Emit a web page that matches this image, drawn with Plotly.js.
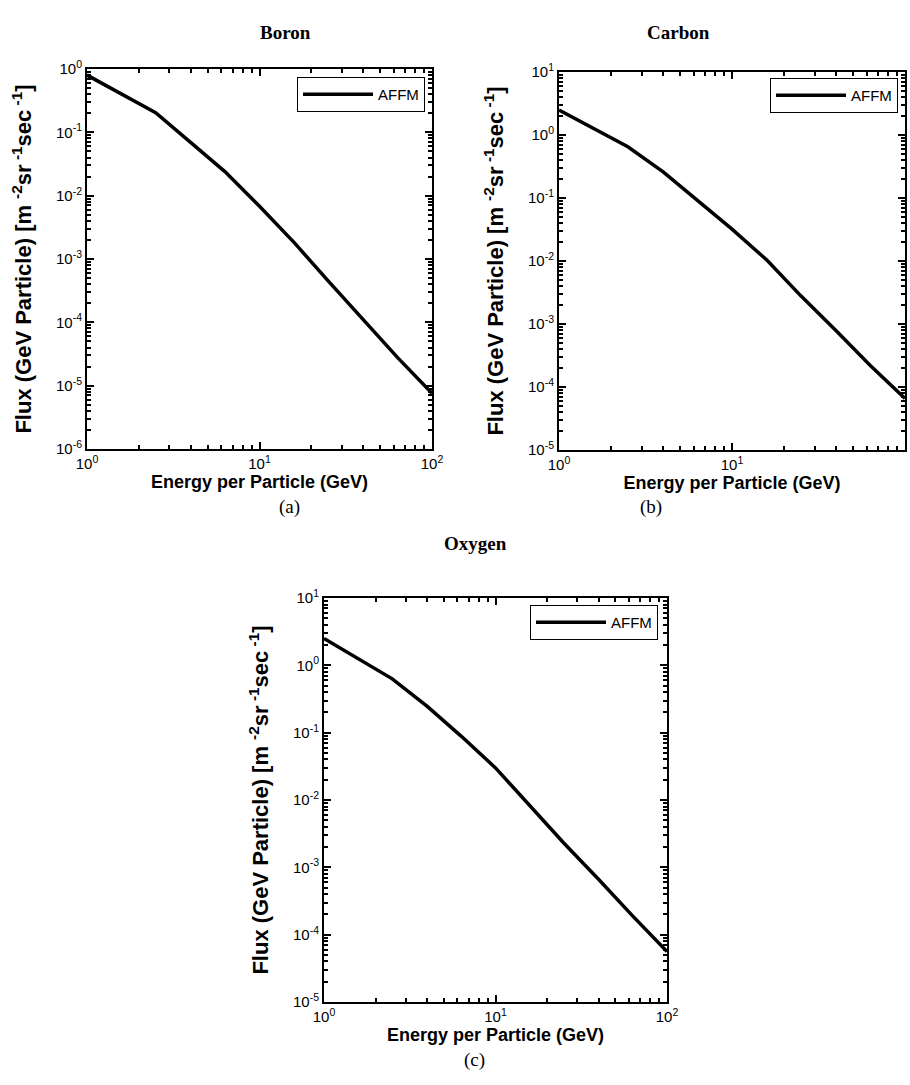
<!DOCTYPE html>
<html>
<head>
<meta charset="utf-8">
<script src="https://cdn.plot.ly/plotly-3.0.1.min.js"></script>
<style>
html,body{margin:0;padding:0;background:#fff;}
#chart{width:910px;height:1085px;}
</style>
</head>
<body>
<div id="chart"></div>
<script>
// ---- data ----
var energy = [1, 2.5, 4, 6.3, 10, 16, 25, 40, 63, 100];
var boronFlux  = [0.80, 0.204, 0.069, 0.024, 0.0068, 0.00178, 4.5e-4, 1.12e-4, 2.8e-5, 7.6e-6];
var carbonFlux = [2.5, 0.65, 0.26, 0.093, 0.032, 0.0102, 0.0028, 7.8e-4, 2.2e-4, 6.6e-5];
var oxygenFlux = [2.5, 0.63, 0.245, 0.089, 0.030, 0.0079, 0.0023, 6.6e-4, 1.9e-4, 5.6e-5];
var seriesName = 'AFFM';
var panelTitles = ['Boron', 'Carbon', 'Oxygen'];
var panelLabels = ['(a)', '(b)', '(c)'];
var xTickVals = [1, 10, 100];
var xTickText = ['10<sup>0</sup>', '10<sup>1</sup>', '10<sup>2</sup>'];
var yTickValsA = [1e-6, 1e-5, 1e-4, 1e-3, 1e-2, 1e-1, 1];
var yTickTextA = ['10<sup>-6</sup>', '10<sup>-5</sup>', '10<sup>-4</sup>', '10<sup>-3</sup>', '10<sup>-2</sup>', '10<sup>-1</sup>', '10<sup>0</sup>'];
var yTickValsBC = [1e-5, 1e-4, 1e-3, 1e-2, 1e-1, 1, 10];
var yTickTextBC = ['10<sup>-5</sup>', '10<sup>-4</sup>', '10<sup>-3</sup>', '10<sup>-2</sup>', '10<sup>-1</sup>', '10<sup>0</sup>', '10<sup>1</sup>'];
var xTitle = 'Energy per Particle (GeV)';
var yTitle = 'Flux (GeV Particle) [m <sup>-2</sup>sr<sup> -1</sup>sec<sup> -1</sup>]';

// minor tick positions (2..9 within each decade)
function minorTicks(lo, hi) {
  var out = [];
  for (var e = lo; e < hi; e++) {
    for (var k = 2; k <= 9; k++) out.push(k * Math.pow(10, e));
  }
  return out;
}

var SANS = 'Liberation Sans, Arial, sans-serif';
var SERIF = 'Liberation Serif, Times New Roman, serif';
var W = 910, H = 1085;
function dx(a, b) { return [a / W, b / W]; }
function dy(top, bottom) { return [1 - bottom / H, 1 - top / H]; }

function xaxis(dom, anchor) {
  return {
    type: 'log', domain: dom, anchor: anchor, range: [0, 2],
    tickmode: 'array', tickvals: xTickVals, ticktext: xTickText,
    ticks: 'inside', ticklen: 7, tickwidth: 1.5, tickcolor: '#000',
    minor: {tickmode: 'array', tickvals: minorTicks(0, 2), ticks: 'inside', ticklen: 4, tickwidth: 1.5, tickcolor: '#000', showgrid: false},
    showline: true, linecolor: '#000', linewidth: 2, mirror: 'allticks',
    showgrid: false, zeroline: false,
    tickfont: {family: SANS, size: 15, color: '#000'},
    title: {text: xTitle, font: {family: SANS, size: 18, color: '#000', weight: 'bold'}, standoff: 4}
  };
}
function yaxis(dom, anchor, range, tv, tt) {
  return {
    type: 'log', domain: dom, anchor: anchor, range: range,
    tickmode: 'array', tickvals: tv, ticktext: tt,
    ticks: 'inside', ticklen: 7, tickwidth: 1.5, tickcolor: '#000',
    minor: {tickmode: 'array', tickvals: minorTicks(range[0], range[1]), ticks: 'inside', ticklen: 4, tickwidth: 1.5, tickcolor: '#000', showgrid: false},
    showline: true, linecolor: '#000', linewidth: 2, mirror: 'allticks',
    showgrid: false, zeroline: false,
    tickfont: {family: SANS, size: 15, color: '#000'},
    title: {text: yTitle, font: {family: SANS, size: 22, color: '#000', weight: 'bold'}, standoff: 18}
  };
}

var lineStyle = {color: '#000', width: 3.5};
var traces = [
  {x: energy, y: boronFlux, type: 'scatter', mode: 'lines', name: seriesName, line: lineStyle, xaxis: 'x', yaxis: 'y', legend: 'legend', showlegend: true},
  {x: energy, y: carbonFlux, type: 'scatter', mode: 'lines', name: seriesName, line: lineStyle, xaxis: 'x2', yaxis: 'y2', legend: 'legend2', showlegend: true},
  {x: energy, y: oxygenFlux, type: 'scatter', mode: 'lines', name: seriesName, line: lineStyle, xaxis: 'x3', yaxis: 'y3', legend: 'legend3', showlegend: true}
];

function legendAt(xr, yt) {
  return {
    x: xr / W, y: 1 - yt / H, xanchor: 'right', yanchor: 'top',
    bgcolor: '#fff', bordercolor: '#000', borderwidth: 1,
    font: {family: SANS, size: 15, color: '#000'},
    itemwidth: 70, tracegroupgap: 0
  };
}

var layout = {
  width: W, height: H,
  margin: {l: 0, r: 0, t: 0, b: 0},
  paper_bgcolor: '#fff', plot_bgcolor: '#fff',
  showlegend: true,
  xaxis: xaxis(dx(87, 432), 'y'),
  yaxis: yaxis(dy(69, 449), 'x', [-6, 0], yTickValsA, yTickTextA),
  xaxis2: xaxis(dx(559, 905), 'y2'),
  yaxis2: yaxis(dy(72, 450), 'x2', [-5, 1], yTickValsBC, yTickTextBC),
  xaxis3: xaxis(dx(324, 667), 'y3'),
  yaxis3: yaxis(dy(598, 1002), 'x3', [-5, 1], yTickValsBC, yTickTextBC),
  legend: legendAt(425, 77),
  legend2: legendAt(898, 78),
  legend3: legendAt(658, 605),
  annotations: [
    {text: '<b>' + panelTitles[0] + '</b>', x: 258 / W, y: 1 - 20 / H, xref: 'paper', yref: 'paper', showarrow: false, font: {family: SERIF, size: 19, color: '#000'}},
    {text: '<b>' + panelTitles[1] + '</b>', x: 712 / W, y: 1 - 20 / H, xref: 'paper', yref: 'paper', showarrow: false, font: {family: SERIF, size: 19, color: '#000'}},
    {text: '<b>' + panelTitles[2] + '</b>', x: 475 / W, y: 1 - 543 / H, xref: 'paper', yref: 'paper', showarrow: false, font: {family: SERIF, size: 19, color: '#000'}},
    {text: panelLabels[0], x: 277 / W, y: 1 - 507 / H, xref: 'paper', yref: 'paper', showarrow: false, font: {family: SERIF, size: 19, color: '#000'}},
    {text: panelLabels[1], x: 664 / W, y: 1 - 507 / H, xref: 'paper', yref: 'paper', showarrow: false, font: {family: SERIF, size: 19, color: '#000'}},
    {text: panelLabels[2], x: 474 / W, y: 1 - 1073 / H, xref: 'paper', yref: 'paper', showarrow: false, font: {family: SERIF, size: 19, color: '#000'}}
  ]
};

Plotly.newPlot('chart', traces, layout, {displayModeBar: false, responsive: false});
</script>
</body>
</html>
